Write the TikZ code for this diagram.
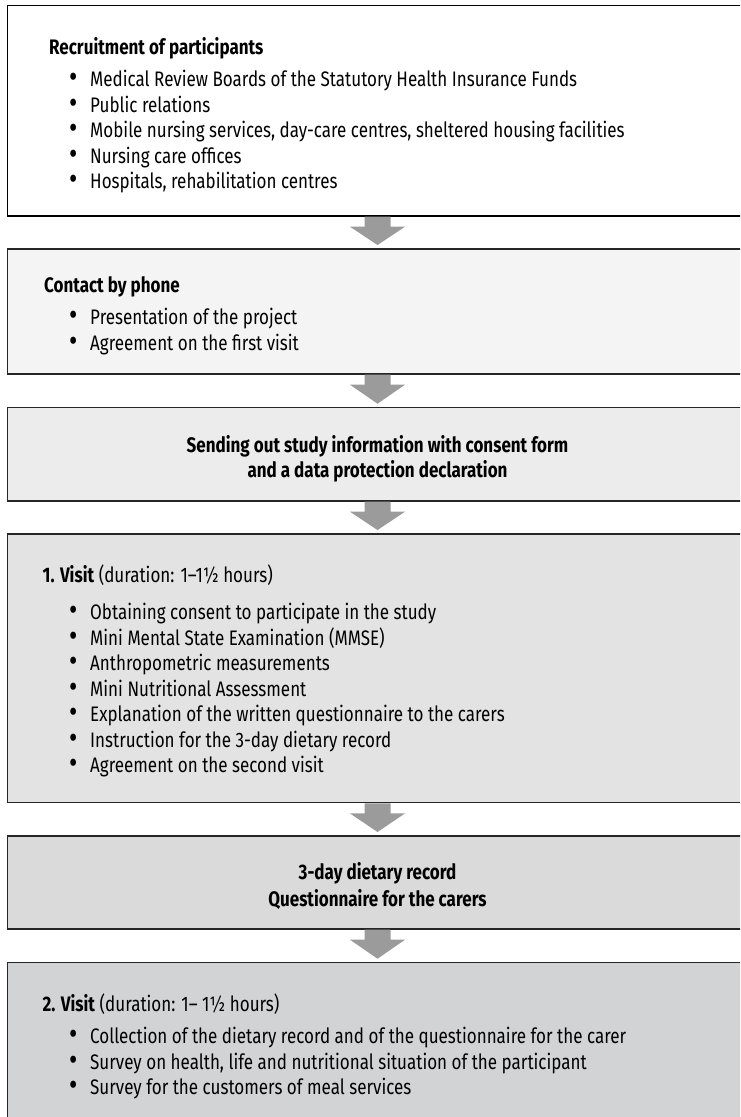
\documentclass[tikz,border=0pt]{standalone}
\usepackage{fontspec}
\usepackage{graphicx}
\setmainfont{Fira Sans}[FakeStretch=0.81]
\usetikzlibrary{calc,positioning}
\definecolor{fillB}{HTML}{F4F4F4}
\definecolor{fillC}{HTML}{ECECEC}
\definecolor{fillD}{HTML}{E3E3E3}
\definecolor{fillE}{HTML}{DADADA}
\definecolor{fillF}{HTML}{D2D3D4}
\definecolor{arrowgray}{HTML}{9B9B9B}
\newcommand\itm[2][20]{\hspace*{#1pt}\makebox[8pt]{\raisebox{-1.2pt}{\scalebox{1.5}{\textbullet}}}\hspace{13pt}#2}
\newcommand\flowarrow[2]{\fill[arrowgray] ($(#1.south)+(-13,0.6)$) -- ($(#1.south)+(-13,10.7)$) -- ($(#1.south)+(-27.5,10.7)$) -- ($(#2.north)+(0,-4)$) -- ($(#1.south)+(27.5,10.7)$) -- ($(#1.south)+(13,10.7)$) -- ($(#1.south)+(13,0.6)$) -- cycle;}

\begin{document}
\begin{tikzpicture}[x=1pt,y=-1pt,
		box/.style={draw=black!85, line width=1.2pt, minimum width=740pt, inner sep=0pt, outer sep=0pt, anchor=north west},
		txt/.style={align=left, inner sep=0pt, anchor=base west, font=\fontsize{21}{25.5}\selectfont},
		mid/.style={align=center, inner sep=0pt, anchor=center, font=\bfseries\fontsize{21}{25.5}\selectfont}]
			%%%%% START %%%%%
			
			\useasboundingbox (0,0) rectangle (740,1117);
			\clip (0,0) rectangle (740,1117);
			
			\node[box, fill=white, draw=black, minimum height=210.5pt] (b1) at (7.5,5.5) {};
			\node[box, fill=fillB, minimum height=125pt, below=33pt of b1] (b2) {};
			\node[box, fill=fillC, minimum height=93.3pt, below=33.7pt of b2] (b3) {};
			\node[box, fill=fillD, minimum height=268.7pt, below=33pt of b3] (b4) {};
			\node[box, fill=fillE, minimum height=93pt, below=33.3pt of b4] (b5) {};
			\node[box, fill=fillF, minimum height=200pt, below=33.7pt of b5] (b6) {};
			
			% base = baseline of the last line
			\node[txt] (t1) at ($(b1.north west)+(41.5,183)$) {\textbf{Recruitment of participants}\\[6.8pt]
				\itm{Medical Review Boards of the Statutory Health Insurance Funds}\\
				\itm{Public relations}\\
				\itm{Mobile nursing services, day-care centres, sheltered housing facilities}\\
				\itm{Nursing care offices}\\
				\itm{Hospitals, rehabilitation centres}};
			
			\node[txt] (t2) at ($(b2.north west)+(36.5,101)$) {\textbf{Contact by phone}\\[6.8pt]
				\itm[25]{Presentation of the project}\\
				\itm[25]{Agreement on the first visit}};
			
			\node[mid] (t3) at ($(b3.center)+(0,4.5)$) {Sending out study information with consent form\\
				and a data protection declaration};
			
			\node[txt] (t4) at ($(b4.north west)+(35,238.5)$) {\textbf{1. Visit} (duration: 1–1½ hours)\\[11.5pt]
				\itm[26.5]{Obtaining consent to participate in the study}\\
				\itm[26.5]{Mini Mental State Examination (MMSE)}\\
				\itm[26.5]{Anthropometric measurements}\\
				\itm[26.5]{Mini Nutritional Assessment}\\
				\itm[26.5]{Explanation of the written questionnaire to the carers}\\
				\itm[26.5]{Instruction for the 3-day dietary record}\\
				\itm[26.5]{Agreement on the second visit}};
			
			\node[mid, font=\bfseries\fontsize{21}{27.5}\selectfont] (t5) at ($(b5.center)+(0,3.4)$) {3-day dietary record\\
				Questionnaire for the carers};
			
			\node[txt] (t6) at ($(b6.north west)+(35,131.8)$) {\textbf{2. Visit} (duration: 1– 1½ hours)\\[7pt]
				\itm[26.5]{Collection of the dietary record and of the questionnaire for the carer}\\
				\itm[26.5]{Survey on health, life and nutritional situation of the participant}\\
				\itm[26.5]{Survey for the customers of meal services}};
			
			\flowarrow{b1}{b2}
			\flowarrow{b2}{b3}
			\flowarrow{b3}{b4}
			\flowarrow{b4}{b5}
			\flowarrow{b5}{b6}
			
			%%%%% END %%%%%
		\end{tikzpicture}
\end{document}
